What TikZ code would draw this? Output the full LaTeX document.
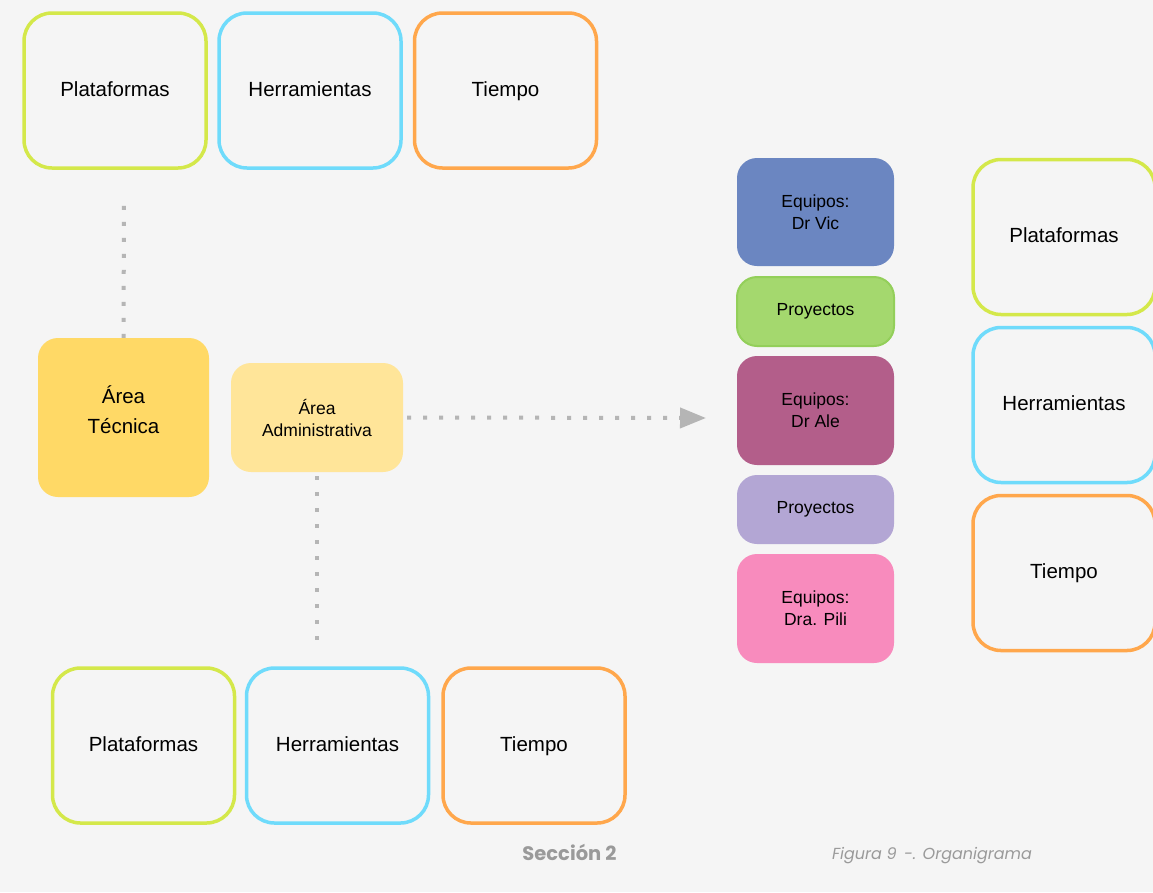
\documentclass[tikz,border=0pt]{standalone}
\usepackage{fontspec}
\setmainfont{Liberation Sans}
\newfontfamily\footfont{Poppins}
\usetikzlibrary{arrows.meta}
\definecolor{bgc}{HTML}{F5F5F5}
\definecolor{lime}{HTML}{D4E84A}
\definecolor{sky}{HTML}{6FDBFB}
\definecolor{tang}{HTML}{FFA74C}
\definecolor{gold}{HTML}{FFD966}
\definecolor{cream}{HTML}{FFE599}
\definecolor{blueq}{HTML}{6B86C1}
\definecolor{greenp}{HTML}{A4D86E}
\definecolor{greenb}{HTML}{93CF5A}
\definecolor{plum}{HTML}{B35E8A}
\definecolor{lilac}{HTML}{B3A6D4}
\definecolor{pinkq}{HTML}{F88BBD}
\definecolor{dotc}{HTML}{B5B5B5}
\definecolor{footc}{HTML}{9A9A9A}
\begin{document}
\begin{tikzpicture}[x=1pt,y=-1pt,
  outline/.style={draw=#1, line width=3.5pt, rounded corners=28pt, fill=bgc,
    minimum width=182pt, minimum height=155pt, inner sep=0pt,
    text height=15pt, text depth=4pt,
    font=\fontsize{20.5}{24}\selectfont},
  solid box/.style={fill=#1, rounded corners=20pt, inner sep=0pt,
    align=center, font=\fontsize{17.5}{22}\selectfont},
  dotline/.style={draw=dotc, line width=4pt, dash pattern=on 4pt off 12pt},
]
\useasboundingbox (0,0) rectangle (1153,892);
\clip (0,0) rectangle (1153,892);
\fill[bgc] (0,0) rectangle (1153,892);

% top row
\node[outline=lime] (tp) at (115,90.5) {Plataformas};
\node[outline=sky]  (th) at (310,90.5) {Herramientas};
\node[outline=tang] (tt) at (505.5,90.5) {Tiempo};

% bottom row
\node[outline=lime] (bp) at (143.5,745.5) {Plataformas};
\node[outline=sky]  (bh) at (337.5,745.5) {Herramientas};
\node[outline=tang] (bt) at (534,745.5) {Tiempo};

% right column
\node[outline=lime] (rp) at (1064,237) {Plataformas};
\node[outline=sky]  (rh) at (1064,405) {Herramientas};
\node[outline=tang] (rt) at (1064,573) {Tiempo};

% areas
\node[solid box=gold, minimum width=171pt, minimum height=159pt,
  font=\fontsize{20.5}{30}\selectfont, text depth=15pt] (tec) at (123.5,417.5) {Área\\Técnica};
\node[solid box=cream, minimum width=172pt, minimum height=109pt] (adm) at (317,417.5) {Área\\Administrativa};

% teams and projects
\node[solid box=blueq, minimum width=157pt, minimum height=108pt] (vic) at (815.5,212) {Equipos:\\Dr Vic};
\node[solid box=greenp, draw=greenb, line width=2pt, minimum width=157pt, minimum height=69pt] (p1) at (815.5,311.5) {Proyectos};
\node[solid box=plum, minimum width=157pt, minimum height=109pt] (ale) at (815.5,410.5) {Equipos:\\Dr Ale};
\node[solid box=lilac, minimum width=157pt, minimum height=69pt] (p2) at (815.5,509.5) {Proyectos};
\node[solid box=pinkq, minimum width=157pt, minimum height=109pt] (pili) at (815.5,608.5) {Equipos:\\Dra. Pili};

% dotted connectors
\coordinate (up) at (124,204);
\coordinate (down) at (317,640);
\coordinate (tip) at (706,418);
\draw[dotline] (tec.north) -- (up);
\draw[dotline] (adm.south) ++(0,4) -- (down);
\draw[dotline, -{Triangle[length=26pt,width=20pt,fill=dotc]}, shorten <=4pt]
  (adm.east) -- (tip);

% footer
\node[font=\footfont\bfseries\fontsize{19.5}{22}\selectfont, text=footc] (sec) at (569.5,852) {Sección 2};
\node[font=\footfont\itshape\fontsize{16}{18}\selectfont, text=footc] (fig) at (932,856) {Figura 9\ \,-. Organigrama};
\end{tikzpicture}
\end{document}
